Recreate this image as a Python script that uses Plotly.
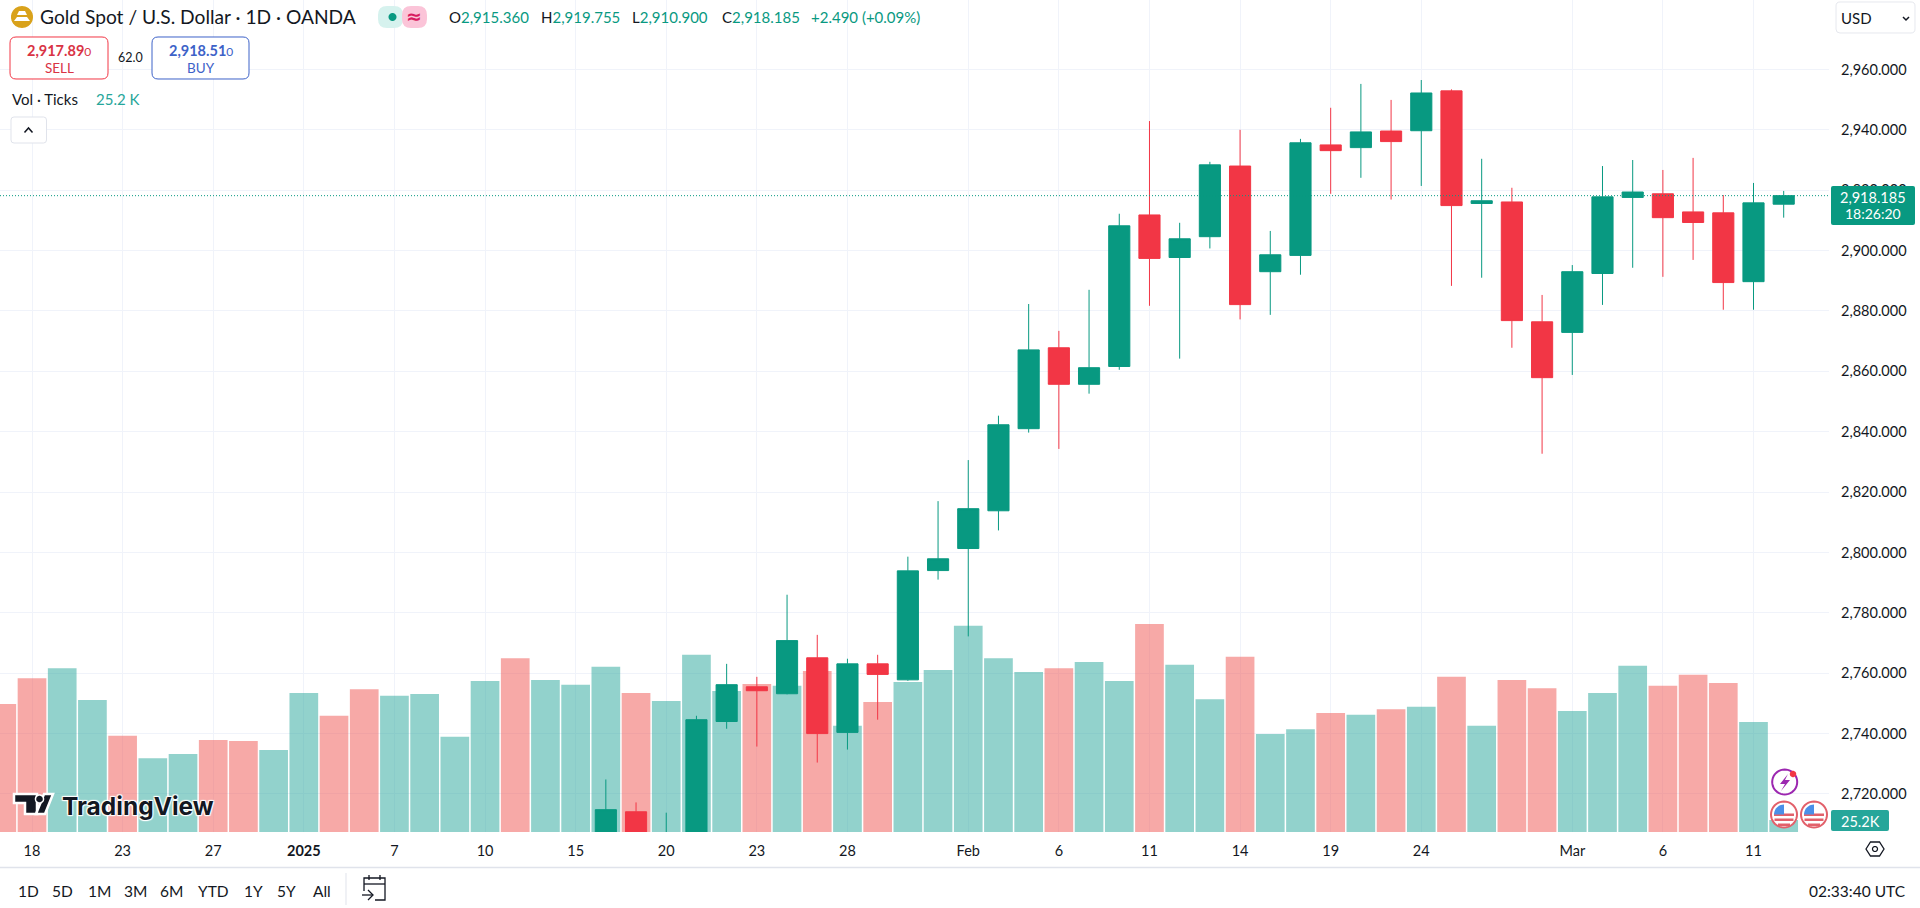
import math
import plotly.graph_objects as go

# daily bars, Dec 17 to Mar 12
dates = ["2024-12-17", "2024-12-18", "2024-12-19", "2024-12-20", "2024-12-23", "2024-12-24", "2024-12-26", "2024-12-27",
         "2024-12-30", "2024-12-31", "2025-01-02", "2025-01-03", "2025-01-06", "2025-01-07", "2025-01-08", "2025-01-09",
         "2025-01-10", "2025-01-13", "2025-01-14", "2025-01-15", "2025-01-16", "2025-01-17", "2025-01-20", "2025-01-21",
         "2025-01-22", "2025-01-23", "2025-01-24", "2025-01-27", "2025-01-28", "2025-01-29", "2025-01-30", "2025-01-31",
         "2025-02-03", "2025-02-04", "2025-02-05", "2025-02-06", "2025-02-07", "2025-02-10", "2025-02-11", "2025-02-12",
         "2025-02-13", "2025-02-14", "2025-02-17", "2025-02-18", "2025-02-19", "2025-02-20", "2025-02-21", "2025-02-24",
         "2025-02-25", "2025-02-26", "2025-02-27", "2025-02-28", "2025-03-03", "2025-03-04", "2025-03-05", "2025-03-06",
         "2025-03-07", "2025-03-10", "2025-03-11", "2025-03-12"]
# volume in thousands of ticks
volume = [269, 323, 344, 277, 202, 155, 164, 193, 191, 172, 292, 244, 300, 286, 290, 200, 317, 365, 319, 309, 347, 292,
          275, 372, 296, 311, 307, 338, 223, 273, 315, 340, 433, 365, 336, 344, 357, 317, 437, 351, 279, 368, 206, 216,
          250, 246, 258, 263, 326, 223, 319, 302, 254, 292, 349, 307, 330, 313, 231, 25.2]
volume_dir = ["d", "d", "u", "u", "d", "u", "u", "d", "d", "u", "u", "d", "d", "u", "u", "u", "u", "d", "u", "u", "u", "d",
              "u", "u", "u", "d", "u", "d", "u", "d", "u", "u", "u", "u", "u", "d", "u", "u", "d", "u", "u", "d", "u", "u",
              "d", "u", "d", "u", "d", "u", "d", "d", "u", "u", "u", "d", "d", "d", "u", "u"]

# the candles before Jan 16 sit below the visible price range
candle_dates = dates[20:]
opens = [2695, 2714.1, 2702, 2706, 2744, 2755.5, 2753.2, 2765.1, 2740.4, 2763.1, 2757.8, 2794, 2801.3, 2813.8, 2841, 2867.8,
         2855.7, 2861.6, 2911.8, 2897.7, 2904.6, 2928, 2893, 2898.4, 2935, 2934.1, 2939.6, 2939.7, 2952.9, 2915.6, 2916.1,
         2876.4, 2872.9, 2892.4, 2917.6, 2918.8, 2912.8, 2912.5, 2889.7, 2915.36]
highs = [2724.8, 2717.2, 2713.8, 2745.9, 2763.1, 2758.8, 2786, 2772.7, 2764.8, 2766.1, 2798.6, 2817, 2830.6, 2845.3, 2882.3,
         2873.4, 2887, 2912.2, 2942.9, 2909.2, 2929.4, 2940, 2906.5, 2937, 2947.3, 2955.2, 2949.9, 2956.5, 2953.4, 2930.4,
         2920.8, 2885.3, 2895.2, 2928, 2930, 2926.7, 2930.7, 2918.4, 2922.4, 2919.755]
lows = [2690, 2699, 2696, 2702, 2741.6, 2735.7, 2753, 2730.4, 2734.7, 2744.6, 2757.5, 2791, 2772.2, 2807.3, 2839.7, 2834.3,
        2852.6, 2860.5, 2881.7, 2864.2, 2900.7, 2877.2, 2878.7, 2892, 2918.8, 2924.1, 2916.9, 2921.4, 2888.3, 2891, 2867.8,
        2832.7, 2858.8, 2882, 2894.3, 2891.3, 2896.9, 2880.4, 2880.4, 2910.9]
closes = [2714.8, 2702, 2706, 2744.6, 2756.2, 2754.2, 2770.8, 2740, 2763.1, 2759.6, 2793.9, 2797.9, 2814.5, 2842.3, 2867.1,
          2855.7, 2861.2, 2908.2, 2897.4, 2903.9, 2928.4, 2882.1, 2898.6, 2935.7, 2933.1, 2939.3, 2936.1, 2952.2, 2914.9,
          2916.5, 2876.8, 2857.9, 2893, 2917.8, 2919.4, 2910.9, 2909.3, 2889.4, 2915.8, 2918.185]

tick_dates = ["2024-12-18", "2024-12-23", "2024-12-27", "2025-01-02", "2025-01-07", "2025-01-10", "2025-01-15", "2025-01-20",
              "2025-01-23", "2025-01-28", "2025-02-03", "2025-02-06", "2025-02-11", "2025-02-14", "2025-02-19", "2025-02-24",
              "2025-03-03", "2025-03-06", "2025-03-11"]
tick_labels = ["18", "23", "27", "<b>2025</b>", "7", "10", "15", "20", "23", "28", "Feb", "6", "11", "14", "19", "24", "Mar", "6", "11"]
price_ticks = [2720, 2740, 2760, 2780, 2800, 2820, 2840, 2860, 2880, 2900, 2920, 2940, 2960]
range_buttons = ["1D", "5D", "1M", "3M", "6M", "YTD", "1Y", "5Y", "All"]
last_close = closes[-1]

GREEN = "#089981"
RED = "#f23645"
INK = "#131722"
FONT = "Lato"
PLOT_W = 1829
PLOT_H = 832


def fx(x):
    return x / PLOT_W


def fy(y):
    return 1 - y / PLOT_H


def poly(points, close=True):
    path = "M" + " L".join(f"{fx(x):.5f},{fy(y):.5f}" for x, y in points)
    return path + (" Z" if close else "")


def round_rect(x0, y0, x1, y1, r):
    # paper coords, corners done with Q
    def p(x, y):
        return f"{fx(x):.5f},{fy(y):.5f}"
    return (f"M{p(x0 + r, y0)} L{p(x1 - r, y0)} Q{p(x1, y0)} {p(x1, y0 + r)} L{p(x1, y1 - r)} Q{p(x1, y1)} {p(x1 - r, y1)} "
            f"L{p(x0 + r, y1)} Q{p(x0, y1)} {p(x0, y1 - r)} L{p(x0, y0 + r)} Q{p(x0, y0)} {p(x0 + r, y0)} Z")


def circle_pts(cx, cy, r, a0=0, a1=360, n=40):
    return [(cx + r * math.cos(math.radians(a0 + (a1 - a0) * i / n)), cy + r * math.sin(math.radians(a0 + (a1 - a0) * i / n)))
            for i in range(n + 1)]


shapes = []
annotations = []


def add_path(path, fill="rgba(0,0,0,0)", line=None, width=1):
    shapes.append(dict(type="path", path=path, xref="paper", yref="paper", fillcolor=fill, layer="above",
                       line=dict(color=line if line else "rgba(0,0,0,0)", width=width if line else 0)))


def note(text, x, y, size=14, color=INK, anchor="left", family=FONT, **kw):
    annotations.append(dict(text=text, x=fx(x), y=fy(y), xref="paper", yref="paper", showarrow=False, xanchor=anchor,
                            yanchor="middle", font=dict(family=family, size=size, color=color), borderpad=0, **kw))


def flag(cx, cy):
    add_path(poly(circle_pts(cx, cy, 13)), fill="white", line="#e2606a", width=2)
    for dy, half in [(-1, 10), (4, 9.5), (9, 6)]:
        add_path(poly([(cx - half, cy + dy), (cx + half, cy + dy), (cx + half, cy + dy + 2.5), (cx - half, cy + dy + 2.5)]), fill="#e2606a")
    add_path(poly([(cx, cy), (cx, cy - 10)] + circle_pts(cx, cy, 10, 270, 180, 10)), fill="#4a8fe8")


# price line and tags
shapes.append(dict(type="line", xref="paper", yref="y2", x0=0, x1=1, y0=last_close, y1=last_close, layer="above",
                   line=dict(color=GREEN, width=1, dash="1px,2px")))
add_path(round_rect(1831, 186, 1915, 225, 2), fill=GREEN)
note("2,918.185", 1873, 197, 14.5, "white", "center")
note("18:26:20", 1873, 214, 14, "white", "center")
add_path(round_rect(1831, 810, 1889, 831, 2), fill="#26a69a")
note("25.2K", 1860, 821, 14.5, "white", "center")

# header
add_path(poly(circle_pts(22, 17, 11)), fill="#d9a21b")
add_path(poly([(17, 17), (27, 17), (30, 21), (14, 21)]), fill="white")
add_path(poly([(19, 11), (25, 11), (27, 15), (17, 15)]), fill="white")
note("Gold Spot / U.S. Dollar · 1D · OANDA", 39, 17, 19.2)
add_path(round_rect(378, 6, 403, 28, 9), fill="#d6f2ee")
add_path(round_rect(402, 6, 427, 28, 9), fill="#fbc4d8")
add_path(poly(circle_pts(392.5, 17, 4)), fill=GREEN)
note("<b>≈</b>", 414, 16, 19, "#d81b60", "center", family="DejaVu Sans")
ohlc_green = "#089981"
for label, value, x in [("O", "2,915.360", 448), ("H", "2,919.755", 539.5), ("L", "2,910.900", 631), ("C", "2,918.185", 721)]:
    note(f"{label}<span style='color:{ohlc_green}'>{value}</span>", x, 17, 15)
note("+2.490 (+0.09%)", 809.5, 17, 15, ohlc_green)

# sell / buy boxes
add_path(round_rect(10, 37, 108, 79, 6), fill="white", line=RED)
note("<b>2,917.89</b><span style='font-size:12px'>0</span>", 59, 51, 14.5, "#d93344", "center")
note("SELL", 59, 68, 13.5, "#d93344", "center")
note("62.0", 130, 58, 12.5, INK, "center")
add_path(round_rect(152, 37, 249, 79, 6), fill="white", line="#3d62c8")
note("<b>2,918.51</b><span style='font-size:12px'>0</span>", 200.5, 51, 14.5, "#3d62c8", "center")
note("BUY", 200.5, 68, 13.5, "#3d62c8", "center")

note("Vol · Ticks", 11, 99, 15)
note("25.2 K", 95, 99, 15, "#26a69a")
add_path(round_rect(11, 117, 46.5, 143, 3), fill="white", line="#e0e3eb")
add_path(poly([(24.5, 132.5), (28.5, 128), (32.5, 132.5)], close=False), line=INK, width=1.5)

# currency button
add_path(round_rect(1836, 2, 1915, 33, 4), fill="white", line="#e6e8ee")
note("USD", 1840, 18, 15)
add_path(poly([(1903, 17), (1906, 20), (1909, 17)], close=False), line=INK, width=1.5)

# watermark, thick white halo comes from the font shadow
logo = [[(14, 794), (37, 794), (37, 814), (25, 814), (25, 803), (14, 803)],
        [(36, 814), (44, 794), (53, 794), (45, 814)]]
for pts in logo:
    add_path(poly(pts), fill="#131722", line="white", width=2.5)
add_path(poly(circle_pts(39.5, 799, 4)), fill="#131722", line="white", width=1.5)
annotations.append(dict(text="<b>TradingView</b>", x=fx(60), y=fy(806), xref="paper", yref="paper", showarrow=False, xanchor="left",
                        yanchor="middle", font=dict(family="Inter", size=24.5, color="#131722",
                                                    shadow="1px 1px 1px white, -1px -1px 1px white, 1px -1px 1px white, -1px 1px 1px white")))

# event badges
add_path(poly(circle_pts(1784.7, 782, 12.5)), fill="white", line="#9c27b0", width=2)
add_path(poly([(1788, 774), (1780, 784), (1785, 784), (1781, 791), (1790, 780), (1785, 780)]), fill="#9c27b0")
add_path(poly(circle_pts(1793, 774, 3.2)), fill=RED)
flag(1784, 814.5)
flag(1814, 814.5)

# settings hexagon
add_path(poly([(1866, 849), (1870.5, 842), (1879.5, 842), (1884, 849), (1879.5, 856), (1870.5, 856)]), fill="white", line=INK, width=1.3)
add_path(poly(circle_pts(1875, 849, 2.5)), fill="white", line=INK, width=1.2)

# footer
add_path(poly([(0, 867.5), (1920, 867.5)], close=False), line="#e0e3eb", width=1.5)
for label, x in zip(range_buttons, [28, 62.5, 99, 135, 171, 213, 253, 286.5, 322]):
    note(label, x, 891, 15.5, INK, "center")
add_path(poly([(346, 873), (346, 905)], close=False), line="#e0e3eb")
note("02:33:40 UTC", 1907, 891, 15.5, INK, "right")
add_path(poly([(364, 891), (364, 878), (385, 878), (385, 900), (375, 900)], close=False), line=INK, width=1.3)
add_path(poly([(364, 884), (385, 884)], close=False), line=INK, width=1.3)
add_path(poly([(369, 875), (369, 880)], close=False), line=INK, width=1.3)
add_path(poly([(380, 875), (380, 880)], close=False), line=INK, width=1.3)
add_path(poly([(362, 895), (372, 895)], close=False), line=INK, width=1.3)
add_path(poly([(368, 890), (373, 895), (368, 900)], close=False), line=INK, width=1.3)

colors = ["rgba(38,166,154,0.5)" if d == "u" else "rgba(239,83,80,0.5)" for d in volume_dir]

fig = go.Figure()
fig.add_trace(go.Bar(x=dates, y=volume, marker=dict(color=colors, line_width=0), width=0.95, yaxis="y", showlegend=False))
fig.add_trace(go.Candlestick(x=candle_dates, open=opens, high=highs, low=lows, close=closes, yaxis="y2", showlegend=False,
                             whiskerwidth=0,
                             increasing=dict(line=dict(color=GREEN, width=1), fillcolor=GREEN),
                             decreasing=dict(line=dict(color=RED, width=1), fillcolor=RED)))

fig.update_layout(
    autosize=False, width=1920, height=908, margin=dict(l=0, r=91, t=0, b=76, pad=0),
    paper_bgcolor="white", plot_bgcolor="white", font=dict(family=FONT, size=14.5, color=INK),
    showlegend=False, boxgap=0.0, shapes=shapes, annotations=annotations, dragmode=False,
    xaxis=dict(type="category", categoryorder="array", categoryarray=dates, range=[-0.06, 60.5], rangeslider_visible=False,
               tickmode="array", tickvals=tick_dates, ticktext=tick_labels, showgrid=True, gridcolor="#f0f3fa", gridwidth=1,
               zeroline=False, showline=False, ticks="", ticklabelstandoff=8, tickfont=dict(size=14.5, family=FONT, color=INK)),
    # volume scale, 12 px = 25.2K on the last bar
    yaxis=dict(range=[0, 1747], showticklabels=False, showgrid=False, zeroline=False, showline=False, ticks=""),
    yaxis2=dict(overlaying="y", side="right", range=[2707.4, 2983], tickmode="array", tickvals=price_ticks, tickformat=",.3f",
                showgrid=True, gridcolor="#f0f3fa", gridwidth=1, zeroline=False, showline=False, ticks="", ticklabelstandoff=11,
                tickfont=dict(size=14.5, family=FONT, color=INK)),
)

fig.write_html("out.html", config={"displayModeBar": False},
               post_script="document.body.style.margin='0';document.documentElement.style.overflow='hidden';")
